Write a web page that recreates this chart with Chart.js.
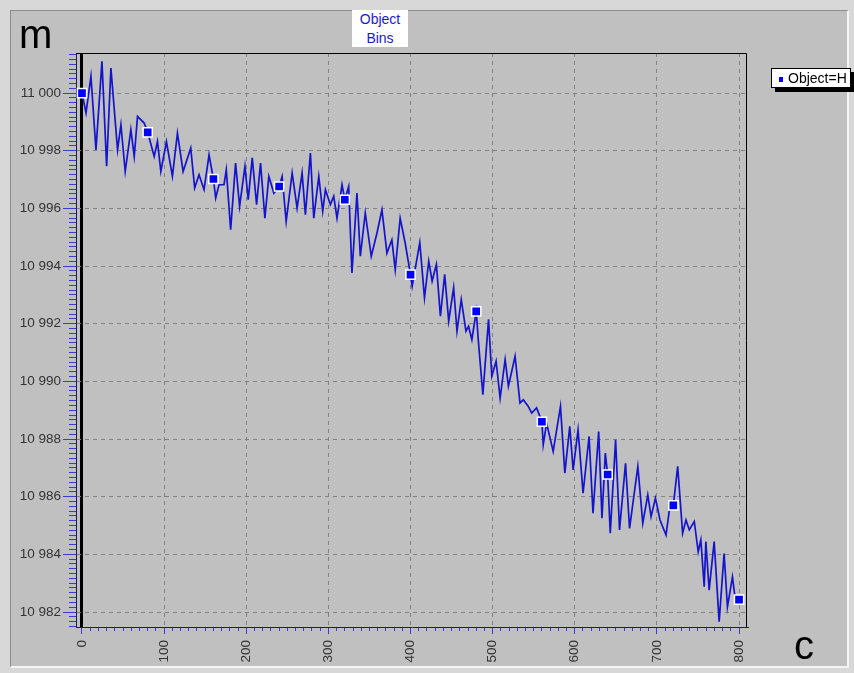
<!DOCTYPE html>
<html>
<head>
<meta charset="utf-8">
<script src="https://cdn.jsdelivr.net/npm/chart.js@4.4.1/dist/chart.umd.min.js"></script>
<style>
  html, body { margin: 0; padding: 0; }
  body {
    width: 854px; height: 673px; position: relative; overflow: hidden;
    background: #d8d8d8;
    font-family: "Liberation Sans", Arial, sans-serif;
  }
  .panel {
    position: absolute; left: 10px; top: 10px; width: 836px; height: 655px;
    background: #c0c0c0;
    border-top: 1px solid #8c8c8c; border-left: 1px solid #8c8c8c;
    border-right: 2px solid #f4f4f4; border-bottom: 2px solid #f4f4f4;
  }
  #chart { position: absolute; left: 0; top: 0; }
  .unit { position: absolute; font-size: 40px; line-height: 1; color: #000; }
  .title {
    position: absolute; left: 352px; top: 10px; width: 56px; height: 37px;
    background: #fff; color: #1a1acc; font-size: 14px; line-height: 19px; text-align: center;
  }
  .legend {
    position: absolute; left: 771px; top: 68px; width: 78px; height: 18px;
    background: #fff; border: 1px solid #000; box-shadow: 4px 4px 0 #000;
    font-size: 14px; line-height: 18px; color: #000;
  }
  .legend i {
    position: absolute; left: 7px; top: 8px; width: 4px; height: 5px; background: #0000ff;
  }
  .legend span { position: absolute; left: 16px; top: 0; }
</style>
</head>
<body>
<div class="panel"></div>
<canvas id="chart" width="854" height="673"></canvas>
<div class="unit" style="left:19px;top:14px;">m</div>
<div class="unit" style="left:794px;top:625px;">c</div>
<div class="title">Object<br>Bins</div>
<div class="legend"><i></i><span>Object=H</span></div>
<script>
// bin positions (c) and heights (m) of the traced profile
const binX = [
  0, 4.9, 10.9, 17, 24.3, 30, 35.2, 43.3, 47.4, 52.6, 59.5, 63.6, 67.6, 75.7, 80,
  87.9, 91.9, 96, 102.8, 110.1, 116.2, 123.1, 132.4, 137.2, 142.5, 148.6, 154.7, 160,
  162.8, 166.8, 172.9, 175.7, 181, 187, 191.9, 198.4, 202.4, 207.3, 212.6, 217.4, 222.7, 227.5, 233.6, 240,
  243.7, 248.6, 255.9, 261.9, 268, 272, 278.1, 282.2, 288.3, 293.1, 296.4, 302.4, 306.5, 310.5, 316.6, 320,
  324.7, 328.7, 334.8, 338.9, 344.9, 352.2, 359.1, 365.2, 371.3, 377.3, 381.4, 387.4, 393.5, 400,
  402, 411.3, 417, 422.2, 426.3, 431.5, 436.4, 441.6, 446.5, 452.5, 456.6, 461.8, 467.5, 470.7, 474.7, 480,
  482.8, 488.1, 495, 499, 504.2, 509.1, 515.2, 519.2, 527.3, 533.3, 537.4, 543.4, 547.5, 553.5, 560,
  561.6, 565.7, 573.7, 582.6, 587.9, 593.9, 598, 604, 610.1, 617.4, 622.2, 629.1, 633.1, 637.2, 640,
  643.2, 649.7, 654.5, 661.8, 666.7, 676.8, 682.8, 688.9, 692.9, 698.2, 703.8, 711.1, 715.2, 720,
  725.3, 731.3, 735.4, 739.4, 745.5, 750.3, 753.5, 757.6, 759.6, 763.6, 769.7, 775.8, 781.8, 785.9, 792, 796, 800
];
const binHeight = [
  11000.0, 10999.31, 11000.58, 10998.03, 11001.10, 10997.46, 11000.87, 10998.03, 10998.90, 10997.28, 10998.73, 10997.80, 10999.19, 10998.96, 10998.64,
  10997.80, 10998.32, 10997.28, 10998.32, 10997.11, 10998.61, 10997.28, 10998.09, 10996.71, 10997.17, 10996.65, 10997.86, 10997.02,
  10996.36, 10996.82, 10996.82, 10997.34, 10995.26, 10997.57, 10996.07, 10997.46, 10996.30, 10997.75, 10996.13, 10997.57, 10995.66, 10997.11, 10996.53, 10996.76,
  10997.11, 10995.55, 10997.23, 10996.01, 10997.23, 10995.78, 10997.92, 10995.66, 10997.11, 10995.90, 10996.65, 10996.13, 10996.42, 10995.66, 10996.82, 10996.30,
  10996.76, 10993.76, 10996.53, 10994.34, 10995.84, 10994.34, 10995.14, 10995.95, 10994.45, 10994.91, 10993.87, 10995.66, 10994.80, 10993.70,
  10993.30, 10994.81, 10992.90, 10994.17, 10993.48, 10994.06, 10992.26, 10993.71, 10992.09, 10993.25, 10991.74, 10992.84, 10991.74, 10991.91, 10991.45, 10992.43,
  10991.33, 10989.54, 10992.15, 10990.18, 10990.70, 10989.42, 10990.76, 10989.83, 10990.87, 10989.25, 10989.36, 10989.13, 10988.90, 10989.08, 10988.60,
  10987.80, 10988.55, 10987.57, 10989.13, 10986.82, 10988.44, 10986.93, 10988.32, 10986.12, 10988.09, 10985.43, 10988.26, 10985.25, 10987.51, 10986.77,
  10984.73, 10987.97, 10984.85, 10987.16, 10984.90, 10987.05, 10985.08, 10986.06, 10985.31, 10985.95, 10985.19, 10984.67, 10985.54, 10985.70,
  10987.05, 10984.73, 10985.19, 10984.85, 10985.14, 10984.09, 10984.50, 10982.88, 10984.44, 10982.76, 10984.44, 10981.66, 10984.03, 10982.18, 10983.22, 10982.30, 10982.43
];
// every 80th bin gets a marker
const markerX = [0, 80, 160, 240, 320, 400, 480, 560, 640, 720, 800];
const markerHeight = [11000.0, 10998.64, 10997.02, 10996.76, 10996.30, 10993.70, 10992.43, 10988.60, 10986.77, 10985.70, 10982.43];

const xRange = [-7.3, 809.7];
const yRange = [10981.48, 11001.39];
const xStep = 100, xMinorStep = 10;
const yStep = 2, yMinorStep = 2 / 12;

const tickBlue = '#3a3ad4';
const axisDark = '#1c1c5c';

function spaced(v) {
  return String(Math.round(v)).replace(/\B(?=(\d{3})+(?!\d))/g, ' ');
}

// black frame on top and right of the plot
const frame = {
  id: 'frame',
  afterDraw(chart) {
    const { ctx, chartArea: a } = chart;
    ctx.save();
    ctx.strokeStyle = '#000';
    ctx.lineWidth = 1;
    ctx.beginPath();
    ctx.moveTo(a.left, a.top + 0.5);
    ctx.lineTo(a.right - 0.5, a.top + 0.5);
    ctx.lineTo(a.right - 0.5, a.bottom);
    ctx.stroke();
    ctx.restore();
  }
};

const minorAxis = (position, step, fitFn) => ({
  type: 'linear',
  position,
  weight: 0,
  min: position === 'bottom' ? xRange[0] : yRange[0],
  max: position === 'bottom' ? xRange[1] : yRange[1],
  ticks: { stepSize: step, includeBounds: false, display: false },
  grid: { drawOnChartArea: false, drawTicks: true, tickLength: position === 'bottom' ? 4 : 7, tickColor: tickBlue },
  border: { display: false },
  afterFit: fitFn
});

new Chart(document.getElementById('chart'), {
  type: 'line',
  data: {
    datasets: [
      {
        data: binX.map((x, i) => ({ x, y: binHeight[i] })),
        borderColor: '#1414cc',
        borderWidth: 1.7,
        pointRadius: 0,
        tension: 0,
        order: 2
      },
      {
        data: markerX.map((x, i) => ({ x, y: markerHeight[i] })),
        showLine: false,
        pointStyle: 'rect',
        pointRadius: 6.5,
        backgroundColor: '#0000ff',
        borderColor: '#ffffff',
        borderWidth: 1.5,
        order: 1
      }
    ]
  },
  options: {
    responsive: false,
    animation: false,
    layout: { padding: { left: 0, top: 53, right: 107, bottom: 0 } },
    plugins: { legend: { display: false }, title: { display: false }, tooltip: { enabled: false } },
    scales: {
      x: {
        type: 'linear',
        position: 'bottom',
        weight: 1,
        min: xRange[0],
        max: xRange[1],
        ticks: {
          stepSize: xStep, includeBounds: false, autoSkip: false,
          minRotation: 90, maxRotation: 90, padding: 6,
          color: '#333', font: { family: 'Liberation Sans', size: 13.5 }
        },
        grid: {
          color: ctx => ctx.tick && ctx.tick.value === 0 ? '#000' : '#808080',
          lineWidth: ctx => ctx.tick && ctx.tick.value === 0 ? 3 : 1,
          tickColor: tickBlue, tickWidth: 1, tickLength: 7
        },
        border: {
          color: axisDark, width: 1,
          dash: ctx => ctx.tick && ctx.tick.value === 0 ? [] : [4, 4]
        },
        afterFit: s => { s.height = 46; }
      },
      xMinor: minorAxis('bottom', xMinorStep, s => { s.height = 0; }),
      y: {
        type: 'linear',
        position: 'left',
        weight: 1,
        min: yRange[0],
        max: yRange[1],
        ticks: {
          stepSize: yStep, includeBounds: false, padding: 2,
          color: '#333', font: { family: 'Liberation Sans', size: 13.5 },
          callback: v => spaced(v)
        },
        grid: { color: '#808080', tickColor: tickBlue, tickLength: 13 },
        border: { color: axisDark, width: 1, dash: [4, 4] },
        afterFit: s => { s.width = 76; }
      },
      yMinor: minorAxis('left', yMinorStep, s => { s.width = 0; })
    }
  },
  plugins: [frame]
});
</script>
</body>
</html>
